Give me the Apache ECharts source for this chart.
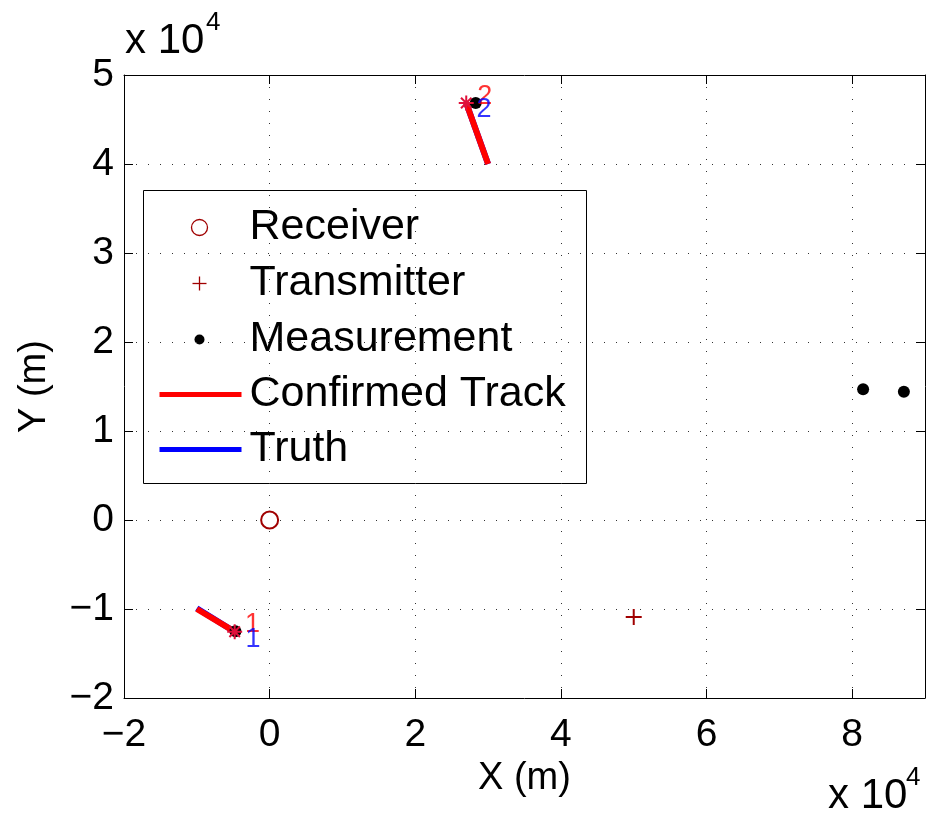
<!DOCTYPE html>
<html>
<head>
<meta charset="utf-8">
<title>tracks</title>
<script src="https://cdn.jsdelivr.net/npm/echarts@6/dist/echarts.min.js"></script>
<style>
  html, body { margin: 0; padding: 0; background: #fff; }
  #chart { width: 930px; height: 821px; }
</style>
</head>
<body>
<div id="chart"></div>
<script>
// data (metres)
var receiver = [[0, 0]];
var transmitter = [[50000, -10900]];
var measurements = [[81500, 14700], [87100, 14400], [28300, 46850], [-4700, -12500]];
var track1 = [[-10000, -10000], [-4800, -12550]];
var track2 = [[30000, 40000], [27000, 46850]];
var truth1 = [[-10000, -9920], [-4800, -12550]];
var truth2 = [[30000, 40000], [27000, 46850]];
var trackStarts = [[-4800, -12550], [27000, 46850]];
var trackLabels = [[-3400, -11700, '1'], [28500, 47550, '2']];
var truthLabels = [[-3300, -13480, '1'], [28400, 46070, '2']];
var xTicks = [-20000, 90000, 20000]; // min, max, step
var yTicks = [-20000, 50000, 10000];

var FONT = 'Liberation Sans, Arial, Helvetica, sans-serif';
var DARKRED = '#a00000';

function tickText(v) {
  if (Math.round(v) % 10000 !== 0) return '';
  var n = v / 10000;
  return n < 0 ? '\u2212' + Math.abs(n) : '' + n;
}

function drawChart() {
  var chart = echarts.init(document.getElementById('chart'));
  var gridLine = { show: true, lineStyle: { type: [1, 11], color: '#333', width: 1 } };
  var frameLine = { show: true, onZero: false, lineStyle: { color: '#000', width: 1 } };
  var tick = { show: true, inside: true, length: 9, lineStyle: { color: '#000' } };

  var option = {
    animation: false,
    grid: { left: 124, right: 5, top: 75, bottom: 123, containLabel: false },
    xAxis: [
      {
        type: 'value', min: xTicks[0], max: xTicks[1], interval: xTicks[2],
        name: 'X (m)', nameLocation: 'middle', nameGap: 58,
        nameTextStyle: { fontFamily: FONT, fontSize: 38, color: '#000' },
        axisLine: frameLine,
        axisTick: tick,
        axisLabel: {
          margin: 18, color: '#000', fontFamily: FONT, fontSize: 39,
          showMaxLabel: false,
          formatter: function (v) { return v % 20000 === 0 ? tickText(v) : ''; }
        },
        splitLine: gridLine
      },
      {
        type: 'value', position: 'top', min: xTicks[0], max: xTicks[1], interval: xTicks[2],
        axisLine: frameLine,
        axisTick: tick,
        axisLabel: { show: false },
        splitLine: { show: false }
      }
    ],
    yAxis: [
      {
        type: 'value', min: yTicks[0], max: yTicks[1], interval: yTicks[2],
        name: 'Y (m)', nameLocation: 'middle', nameGap: 70, nameRotate: 90,
        nameTextStyle: { fontFamily: FONT, fontSize: 38, color: '#000' },
        axisLine: frameLine,
        axisTick: tick,
        axisLabel: { margin: 10, color: '#000', fontFamily: FONT, fontSize: 39, formatter: tickText },
        splitLine: gridLine
      },
      {
        type: 'value', position: 'right', min: yTicks[0], max: yTicks[1], interval: yTicks[2],
        axisLine: frameLine,
        axisTick: tick,
        axisLabel: { show: false },
        splitLine: { show: false }
      }
    ],
    series: [
      // truth underneath
      { name: 'Truth', type: 'line', data: truth1, symbol: 'none', z: 2,
        lineStyle: { color: '#0000ff', width: 6, cap: 'butt' } },
      { name: 'Truth', type: 'line', data: truth2, symbol: 'none', z: 2,
        lineStyle: { color: '#0000ff', width: 6, cap: 'butt' } },
      { name: 'Confirmed Track', type: 'line', data: track1, symbol: 'none', z: 3,
        lineStyle: { color: '#ff0000', width: 6, cap: 'butt' } },
      { name: 'Confirmed Track', type: 'line', data: track2, symbol: 'none', z: 3,
        lineStyle: { color: '#ff0000', width: 6, cap: 'butt' } },
      { name: 'Receiver', type: 'scatter', data: receiver, symbol: 'emptyCircle', symbolSize: 17, z: 4,
        itemStyle: { color: DARKRED, borderColor: DARKRED, borderWidth: 2, opacity: 1 } },
      { name: 'Transmitter', type: 'scatter', data: transmitter, z: 4,
        symbol: 'path://M0,-8L0,8M-8,0L8,0', symbolSize: 16,
        itemStyle: { color: 'none', borderColor: DARKRED, borderWidth: 2, opacity: 1 } },
      { name: 'Measurement', type: 'scatter', data: measurements, symbol: 'circle', symbolSize: 12, z: 5,
        itemStyle: { color: '#000', opacity: 1 } },
      { name: 'start', type: 'scatter', data: trackStarts, z: 6,
        symbol: 'path://M0,-10L0,10M-10,0L10,0M-7,-7L7,7M-7,7L7,-7', symbolSize: 15,
        itemStyle: { color: 'none', borderColor: '#e0103a', borderWidth: 2, opacity: 1 } },
      { name: 'trackLabels', type: 'scatter', data: trackLabels, symbolSize: 0, z: 7,
        label: { show: true, position: 'right', distance: 0, color: '#ff0000', fontFamily: FONT, fontSize: 27,
          formatter: function (p) { return p.data[2]; } } },
      { name: 'truthLabels', type: 'scatter', data: truthLabels, symbolSize: 0, z: 7,
        label: { show: true, position: 'right', distance: 0, color: '#0000ff', fontFamily: FONT, fontSize: 27,
          formatter: function (p) { return p.data[2]; } } }
    ],
    graphic: [
      // exponent labels
      { type: 'text', left: 125, top: 20, z: 10,
        style: { text: 'x 10', fontFamily: FONT, fontSize: 42, fill: '#000' } },
      { type: 'text', left: 206, top: 10, z: 10,
        style: { text: '4', fontFamily: FONT, fontSize: 26, fill: '#000' } },
      { type: 'text', left: 828, top: 775, z: 10,
        style: { text: 'x 10', fontFamily: FONT, fontSize: 42, fill: '#000' } },
      { type: 'text', left: 906, top: 765, z: 10,
        style: { text: '4', fontFamily: FONT, fontSize: 26, fill: '#000' } },
      // legend
      { type: 'group', left: 143, top: 190, z: 20, children: [
        { type: 'rect', shape: { x: 0, y: 0, width: 443, height: 293 },
          style: { fill: '#fff', stroke: '#000', lineWidth: 1 } },
        { type: 'circle', shape: { cx: 56, cy: 37, r: 8 },
          style: { fill: 'none', stroke: DARKRED, lineWidth: 1.3 } },
        { type: 'polyline', shape: { points: [[49, 93], [63, 93]] }, style: { stroke: DARKRED, lineWidth: 1.3 } },
        { type: 'polyline', shape: { points: [[56, 86], [56, 100]] }, style: { stroke: DARKRED, lineWidth: 1.3 } },
        { type: 'circle', shape: { cx: 56, cy: 149, r: 5 }, style: { fill: '#000' } },
        { type: 'line', shape: { x1: 16, y1: 204, x2: 98, y2: 204 }, style: { stroke: '#ff0000', lineWidth: 5 } },
        { type: 'line', shape: { x1: 16, y1: 259, x2: 98, y2: 259 }, style: { stroke: '#0000ff', lineWidth: 5 } },
        { type: 'text', x: 106, y: 37, style: { text: 'Receiver', fontFamily: FONT, fontSize: 43, fill: '#000', verticalAlign: 'middle' } },
        { type: 'text', x: 106, y: 93, style: { text: 'Transmitter', fontFamily: FONT, fontSize: 43, fill: '#000', verticalAlign: 'middle' } },
        { type: 'text', x: 106, y: 149, style: { text: 'Measurement', fontFamily: FONT, fontSize: 43, fill: '#000', verticalAlign: 'middle' } },
        { type: 'text', x: 106, y: 204, style: { text: 'Confirmed Track', fontFamily: FONT, fontSize: 43, fill: '#000', verticalAlign: 'middle' } },
        { type: 'text', x: 106, y: 259, style: { text: 'Truth', fontFamily: FONT, fontSize: 43, fill: '#000', verticalAlign: 'middle' } }
      ] }
    ]
  };

  chart.setOption(option);
}

drawChart();
</script>
</body>
</html>
